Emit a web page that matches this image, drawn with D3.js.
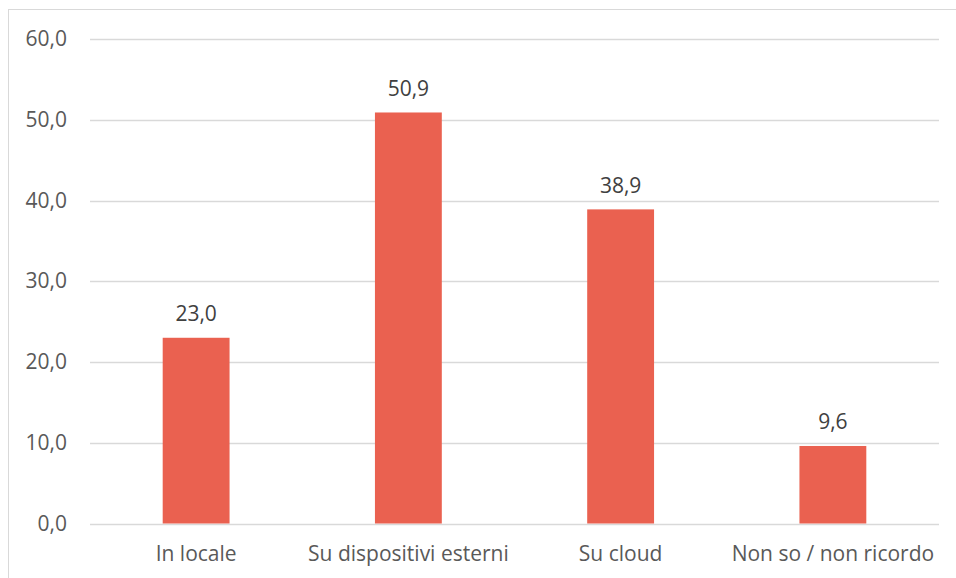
<!DOCTYPE html>
<html>
<head>
<meta charset="utf-8">
<script src="https://cdn.jsdelivr.net/npm/d3@7"></script>
<style>
  body { margin: 0; background: #fff; }
  svg { display: block; font-family: "Open Sans", sans-serif; }
</style>
</head>
<body>
<div id="chart"></div>
<script>
// Chart data
const categories = ["In locale", "Su dispositivi esterni", "Su cloud", "Non so / non ricordo"];
const values = [23.0, 50.9, 38.9, 9.6];
const yTicks = [0, 10, 20, 30, 40, 50, 60];

const width = 956, height = 578;
const margin = { top: 39, right: 17, bottom: 54.5, left: 90 };
const fontSize = 21;

const svg = d3.select("#chart").append("svg")
    .attr("width", width)
    .attr("height", height);

// Outer frame of the chart
svg.append("rect")
    .attr("x", 8.5).attr("y", 9.5)
    .attr("width", width).attr("height", height)
    .attr("fill", "none")
    .attr("stroke", "#d9d9d9");

const x = d3.scaleBand()
    .domain(categories)
    .range([margin.left, width - margin.right])
    .paddingInner(0.685)
    .paddingOuter(0.3425);

const y = d3.scaleLinear()
    .domain([0, 60])
    .range([height - margin.bottom, margin.top]);

const fmt = v => d3.format(".1f")(v).replace(".", ",");

// Gridlines
svg.append("g")
    .selectAll("line")
    .data(yTicks)
    .join("line")
    .attr("x1", margin.left)
    .attr("x2", width - margin.right)
    .attr("y1", d => Math.round(y(d)) + 0.5)
    .attr("y2", d => Math.round(y(d)) + 0.5)
    .attr("stroke", "#d9d9d9")
    .attr("stroke-width", 1.5);

// Y axis labels
const yAxis = svg.append("g")
    .attr("transform", `translate(${margin.left - 23},0)`)
    .call(d3.axisLeft(y).tickValues(yTicks).tickFormat(fmt).tickSize(0).tickPadding(0));
yAxis.select(".domain").remove();
yAxis.selectAll("text")
    .attr("font-family", "Open Sans, sans-serif")
    .attr("font-size", fontSize)
    .attr("fill", "#595959");

// Bars
svg.append("g")
    .selectAll("rect")
    .data(values)
    .join("rect")
    .attr("x", (d, i) => x(categories[i]))
    .attr("y", d => y(d))
    .attr("width", x.bandwidth())
    .attr("height", d => y(0) - y(d))
    .attr("fill", "#ea6150");

// Value labels
svg.append("g")
    .selectAll("text")
    .data(values)
    .join("text")
    .attr("x", (d, i) => x(categories[i]) + x.bandwidth() / 2)
    .attr("y", d => y(d) - 16.5)
    .attr("text-anchor", "middle")
    .attr("font-size", fontSize)
    .attr("fill", "#404040")
    .text(fmt);

// X axis labels
const xAxis = svg.append("g")
    .attr("transform", `translate(0,${y(0)})`)
    .call(d3.axisBottom(x).tickSize(0).tickPadding(23));
xAxis.select(".domain").remove();
xAxis.selectAll("text")
    .attr("font-family", "Open Sans, sans-serif")
    .attr("font-size", fontSize)
    .attr("fill", "#595959");
</script>
</body>
</html>
